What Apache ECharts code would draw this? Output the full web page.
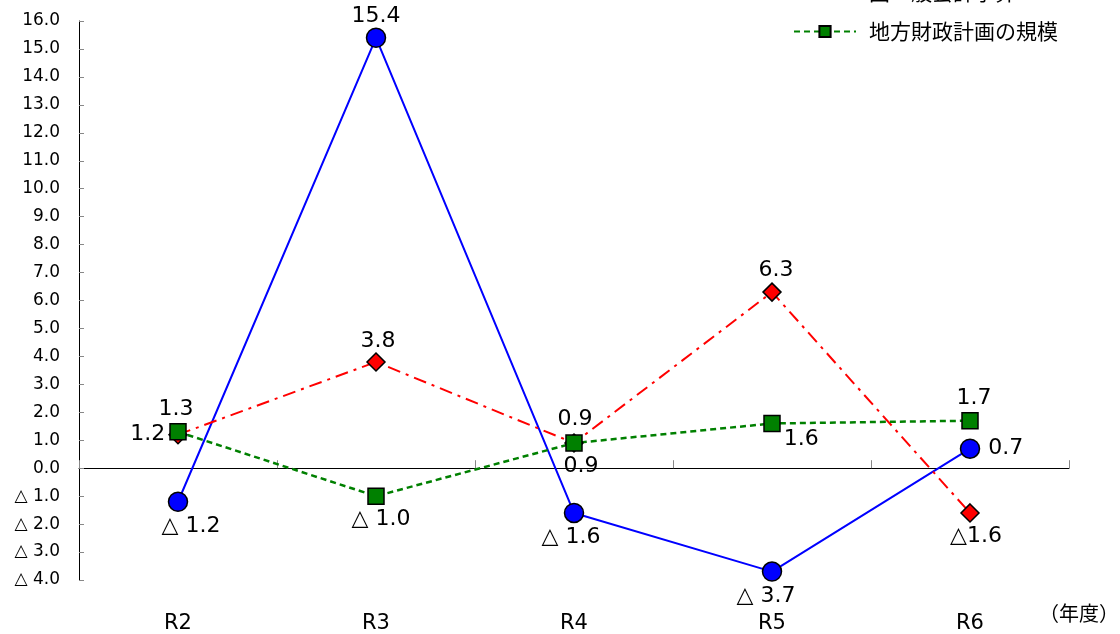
<!DOCTYPE html>
<html>
<head>
<meta charset="utf-8">
<script src="https://cdn.jsdelivr.net/npm/echarts@6/dist/echarts.min.js"></script>
<style>
html,body{margin:0;padding:0;background:#fff;}
#chart{width:1120px;height:634px;}
</style>
</head>
<body>
<div id="chart"></div>
<script>
const categories = ['R2', 'R3', 'R4', 'R5', 'R6'];
const cityBudget = [-1.2, 15.4, -1.6, -3.7, 0.7];
const nationalBudget = [1.2, 3.8, 0.9, 6.3, -1.6];
const localPlan = [1.3, -1.0, 0.9, 1.6, 1.7];
const seriesNames = ['市一般会計予算', '国一般会計予算', '地方財政計画の規模'];
const yMin = -4, yMax = 16, yStep = 1;
const unitLabel = '（年度）';

const LATIN = '"DejaVu Sans", "Noto Sans CJK JP", sans-serif';
const CJK = '"Noto Sans CJK JP", sans-serif';

function fmt(v, sep) {
  return v < 0 ? '△' + sep + Math.abs(v).toFixed(1) : v.toFixed(1);
}

function withLabels(values, positions, offsets, sep) {
  return values.map((v, i) => ({
    value: v,
    label: {
      position: positions[i],
      offset: offsets[i],
      formatter: () => fmt(v, sep)
    }
  }));
}

const labelBase = { show: true, fontSize: 22, fontFamily: LATIN, color: '#000', distance: 3 };

const chart = echarts.init(document.getElementById('chart'));
chart.setOption({
  backgroundColor: '#fff',
  animation: false,
  grid: { left: 79, right: 51, top: 21, bottom: 53, containLabel: false },
  legend: {
    orient: 'vertical',
    left: 793,
    top: -57,
    padding: 0,
    itemWidth: 62,
    itemHeight: 14,
    itemGap: 18,
    textStyle: { fontSize: 21, fontFamily: CJK, color: '#000', padding: [0, 0, 0, 8] },
    data: seriesNames
  },
  xAxis: [
    {
      type: 'category',
      data: categories,
      position: 'top',
      boundaryGap: true,
      axisLine: { show: true, onZero: true, lineStyle: { color: '#000', width: 1 } },
      axisTick: { show: true, inside: false, length: 8, lineStyle: { color: '#888' } },
      axisLabel: { show: false },
      splitLine: { show: false }
    },
    {
      type: 'category',
      data: categories,
      position: 'bottom',
      boundaryGap: true,
      axisLine: { show: false, onZero: false },
      axisTick: { show: false },
      axisLabel: { show: true, margin: 33, fontSize: 21, fontFamily: LATIN, color: '#000' },
      splitLine: { show: false }
    }
  ],
  yAxis: {
    type: 'value',
    min: yMin,
    max: yMax,
    interval: yStep,
    axisLine: { show: true, onZero: false, lineStyle: { color: '#000', width: 1 } },
    axisTick: { show: true, inside: true, length: 5, lineStyle: { color: '#888' } },
    axisLabel: {
      margin: 19,
      fontSize: 17,
      fontFamily: LATIN,
      color: '#000',
      formatter: v => fmt(v, ' ')
    },
    splitLine: { show: false }
  },
  graphic: [
    {
      type: 'text',
      left: 1039,
      top: 603,
      style: { text: unitLabel, fontSize: 20, fontFamily: CJK, fill: '#000' }
    }
  ],
  series: [
    {
      name: seriesNames[0],
      type: 'line',
      xAxisIndex: 0,
      data: withLabels(cityBudget,
        ['bottom', 'top', 'bottom', 'bottom', 'right'],
        [[13, 0], [0, 3], [-3, 0], [-6, 0], [5, 0]], ' '),
      symbol: 'circle',
      symbolSize: 19,
      itemStyle: { color: '#0000FF', borderColor: '#000', borderWidth: 1.5 },
      lineStyle: { color: '#0000FF', width: 2 },
      label: labelBase
    },
    {
      name: seriesNames[1],
      type: 'line',
      xAxisIndex: 0,
      data: withLabels(nationalBudget,
        ['left', 'top', 'top', 'top', 'bottom'],
        [[0, 0], [2, 3], [1, 0], [4, 2], [6, 0]], ''),
      symbol: 'diamond',
      symbolSize: 18,
      itemStyle: { color: '#FF0000', borderColor: '#000', borderWidth: 1.5 },
      lineStyle: { color: '#FF0000', width: 2, type: [13, 6, 3, 6] },
      label: labelBase
    },
    {
      name: seriesNames[2],
      type: 'line',
      xAxisIndex: 0,
      data: withLabels(localPlan,
        ['top', 'bottom', 'bottom', 'right', 'top'],
        [[-2, 0], [5, 0], [7, 0], [0, 16], [4, 0]], ' '),
      symbol: 'rect',
      symbolSize: 16,
      itemStyle: { color: '#008000', borderColor: '#000', borderWidth: 1.5 },
      lineStyle: { color: '#008000', width: 2.5, type: [6, 4] },
      label: labelBase
    }
  ]
});
</script>
</body>
</html>
